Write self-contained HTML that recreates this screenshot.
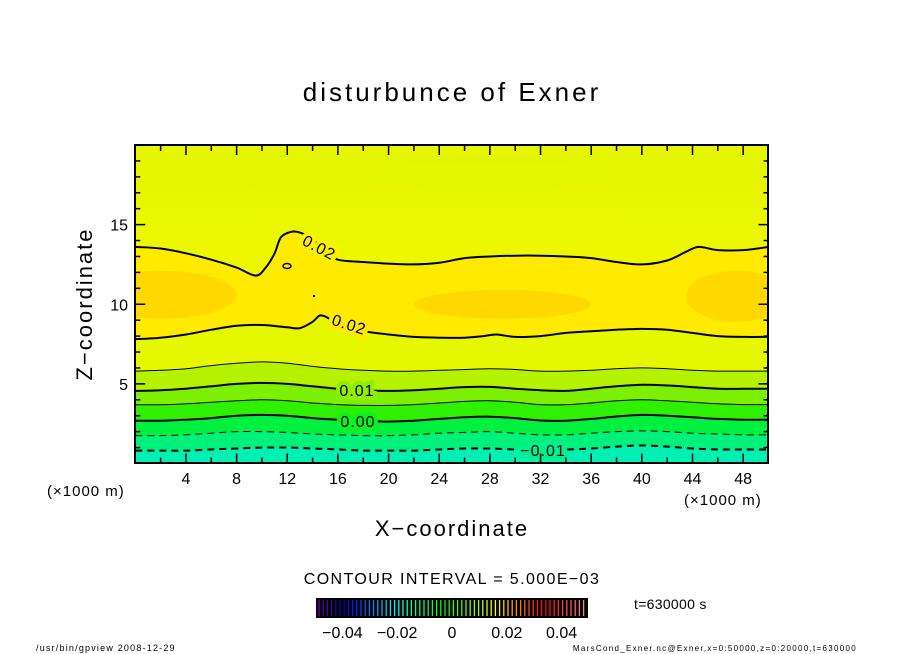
<!DOCTYPE html>
<html><head><meta charset="utf-8"><style>
html,body{margin:0;padding:0;background:#fff;}
svg{display:block;font-family:"Liberation Sans",sans-serif;}
</style></head><body>
<svg id="chart" width="904" height="654" viewBox="0 0 904 654">
<text x="452" y="101" text-anchor="middle" font-size="26" letter-spacing="3">disturbunce of Exner</text>
<defs>
<clipPath id="pc"><rect x="135" y="145" width="633" height="318"/></clipPath>
<linearGradient id="topg" x1="0" y1="0" x2="0" y2="1">
<stop offset="0" stop-color="#e4f600"/><stop offset="0.5" stop-color="#f0f800"/><stop offset="1" stop-color="#fcf400"/>
</linearGradient>
</defs>
<g id="fills" clip-path="url(#pc)"></g>
<g id="lines" clip-path="url(#pc)"></g>
<g id="labels"></g>
<rect x="135" y="145" width="633" height="318" fill="none" stroke="#000" stroke-width="2"/>
<g id="ticks"></g>
<text x="47" y="496" font-size="15" letter-spacing="1">(×1000 m)</text>
<text x="684" y="505" font-size="15" letter-spacing="1">(×1000 m)</text>
<text x="452" y="536" text-anchor="middle" font-size="22" letter-spacing="2">X−coordinate</text>
<text transform="translate(92,304) rotate(-90)" text-anchor="middle" font-size="22" letter-spacing="2">Z−coordinate</text>
<text x="452" y="584" text-anchor="middle" font-size="16" letter-spacing="1.4">CONTOUR INTERVAL = 5.000E−03</text>
<rect x="316" y="598" width="272" height="20" fill="#000"/>
<g id="cbar"></g>
<g id="cblab" font-size="16" text-anchor="middle"></g>
<text x="634" y="609" font-size="14" letter-spacing="0.3">t=630000 s</text>
<text x="36" y="651" font-size="9" letter-spacing="1.2">/usr/bin/gpview   2008-12-29</text>
<text x="857" y="651" font-size="8" letter-spacing="1.3" text-anchor="end">MarsCond_Exner.nc@Exner,x=0:50000,z=0:20000,t=630000</text>
</svg>
<script>
const levels = [-0.01, -0.005, 0.0, 0.005, 0.01, 0.015, 0.02, 0.02];
const xsStd = [0,2,4,6,8,10,12,14,16,18,20,22,24,26,28,30,32,34,36,38,40,42,44,46,48,50];
const zM010 = [0.81,0.81,0.81,0.88,0.94,1.0,1.0,0.94,0.88,0.81,0.81,0.81,0.88,0.94,0.94,0.88,0.88,0.88,0.94,1.06,1.13,1.06,0.94,0.88,0.88,0.88];
const zM005 = [1.75,1.75,1.8,1.9,2.0,2.0,1.95,1.85,1.8,1.75,1.75,1.8,1.9,1.95,2.0,1.9,1.8,1.8,1.9,2.0,2.05,2.0,1.9,1.85,1.8,1.8];
const zP000 = [2.69,2.69,2.75,2.85,3.0,3.05,3.0,2.85,2.75,2.69,2.63,2.69,2.8,2.9,2.94,2.85,2.7,2.69,2.8,2.95,3.05,3.0,2.9,2.8,2.75,2.75];
const zP005 = [3.69,3.69,3.75,3.85,3.94,4.0,3.94,3.8,3.7,3.65,3.65,3.7,3.8,3.9,3.94,3.85,3.7,3.69,3.8,3.94,4.0,3.94,3.85,3.75,3.7,3.7];
const zP010 = [4.56,4.6,4.7,4.85,5.0,5.06,5.0,4.85,4.7,4.6,4.56,4.6,4.7,4.8,4.81,4.7,4.6,4.56,4.7,4.85,4.94,4.9,4.8,4.7,4.69,4.69];
const zP015 = [5.8,5.85,5.95,6.15,6.3,6.38,6.3,6.1,5.95,5.85,5.8,5.8,5.85,5.9,5.95,5.9,5.8,5.8,5.85,5.95,6.0,5.95,5.85,5.8,5.8,5.8];
const xsLow = [0,2,4,6,8,10,12,13,14,14.6,15.3,16,18,20,22,24,26,27.5,28.5,30,32,34,36,38,40,42,44,46,48,50];
const zLow  = [7.81,7.9,8.1,8.4,8.65,8.7,8.55,8.5,8.9,9.3,9.1,8.6,8.3,8.1,7.95,7.9,7.9,8.0,8.1,7.95,8.0,8.2,8.3,8.4,8.45,8.4,8.2,8.0,7.95,7.95];
const xsUp = [0,2,4,6,8,9.5,10.3,11,11.5,12.3,13,14,15,16,18,20,22,24,26,28,30,32,34,36,38,40,42,43.5,44.5,46,48,50];
const zUp  = [13.6,13.5,13.2,12.8,12.3,11.8,12.3,13.2,14.2,14.55,14.5,14.1,13.3,12.8,12.65,12.55,12.5,12.6,12.9,13.0,13.05,13.05,13.0,12.9,12.65,12.5,12.75,13.3,13.6,13.4,13.4,13.6];
const xTicks = [4,8,12,16,20,24,28,32,36,40,44,48];
const zTicks = [5,10,15];
const cbTicks = [-0.04,-0.02,0,0.02,0.04];
const cbTickLabels = ["−0.04","−0.02","0","0.02","0.04"];

const NS="http://www.w3.org/2000/svg";
const X0=135.3, X1=768.5, Y0=463.5, Y1=145;
const sx = v => X0 + v*(X1-X0)/50;
const sy = v => Y0 - v*(Y0-Y1)/20;
function mk(tag, attrs, parent){const e=document.createElementNS(NS,tag);for(const k in attrs)e.setAttribute(k,attrs[k]);parent.appendChild(e);return e;}
function linePath(xs,zs){
  const P=xs.map((x,i)=>[sx(x),sy(zs[i])]);
  let d='M'+P[0][0].toFixed(1)+','+P[0][1].toFixed(1);
  for(let i=0;i<P.length-1;i++){
    const p0=P[Math.max(0,i-1)],p1=P[i],p2=P[i+1],p3=P[Math.min(P.length-1,i+2)];
    const c1=[p1[0]+(p2[0]-p0[0])/6,p1[1]+(p2[1]-p0[1])/6];
    const c2=[p2[0]-(p3[0]-p1[0])/6,p2[1]-(p3[1]-p1[1])/6];
    d+='C'+c1[0].toFixed(1)+','+c1[1].toFixed(1)+' '+c2[0].toFixed(1)+','+c2[1].toFixed(1)+' '+p2[0].toFixed(1)+','+p2[1].toFixed(1);
  }
  return d;
}
const fills=document.getElementById('fills'), lines=document.getElementById('lines');

let r=mk('rect',{x:135,y:145,width:634,height:319,fill:'url(#topg)'},fills);


let p0=mk('ellipse',{cx:sx(28),cy:sy(18.2),rx:120,ry:18,fill:'#e2f600',opacity:0.7},fills);



const contours=[
 {xs:xsUp,zs:zUp,col:'#ffea00',w:2,dash:null,name:'upper-0.02'},
 {ell:true},
 {xs:xsLow,zs:zLow,col:'#e6f800',w:2,dash:null,name:'lower-0.02'},
 {xs:xsStd,zs:zP015,col:'#b4f200',w:1,dash:null,name:'0.015'},
 {xs:xsStd,zs:zP010,col:'#7cf000',w:2,dash:null,name:'0.01'},
 {xs:xsStd,zs:zP005,col:'#2ef000',w:1,dash:null,name:'0.005'},
 {xs:xsStd,zs:zP000,col:'#00f040',w:2,dash:null,name:'0.00'},
 {xs:xsStd,zs:zM005,col:'#00f07c',w:1,dash:'7,5',name:'-0.005'},
 {xs:xsStd,zs:zM010,col:'#00f0b4',w:2,dash:'7,5',name:'-0.01'}
];
contours.forEach(c=>{
  if(c.ell){
    [[2,10.6,6,1.5],[29,10.0,7,0.9],[47.5,10.5,4,1.6]].forEach(e=>{
      const el=mk('ellipse',{cx:sx(e[0]),cy:sy(e[1]),rx:e[2]*12.66,ry:e[3]*15.9,fill:'#ffd800'},fills);
      
      
    });
    return;
  }
  const d=linePath(c.xs,c.zs)+'L'+sx(50)+','+(Y0+2)+'L'+sx(0)+','+(Y0+2)+'Z';
  const f=mk('path',{d:d,fill:c.col},fills);
  
  
});
contours.forEach(c=>{
  if(c.ell)return;
  const a={d:linePath(c.xs,c.zs),fill:'none',stroke:'#000','stroke-width':c.w};
  if(c.dash)a['stroke-dasharray']=c.dash;
  const l=mk('path',a,lines);
  
  
});
let lp=mk('ellipse',{cx:287,cy:266,rx:4,ry:2.5,fill:'none',stroke:'#000','stroke-width':1.5},lines);


let dt=mk('rect',{x:313,y:295,width:2,height:2,fill:'#000'},lines);



const labs=[[319,253,'0.02',28,'#fcf200'],[349,330,'0.02',18,'#ffea00'],[357,396,'0.01',0,'#8cf000'],[358,427,'0.00',0,'#10f020'],[543,456,'−0.01',0,'#00f090']];
const lg=document.getElementById('labels');
labs.forEach(L=>{
  const t=mk('text',{x:L[0],y:L[1],'text-anchor':'middle','font-size':16,'letter-spacing':1,transform:`rotate(${L[3]},${L[0]},${L[1]-5})`,stroke:L[4],'stroke-width':8,'paint-order':'stroke',fill:'#000'},lg);
  t.textContent=L[2];
  
  
});

const tg=document.getElementById('ticks');
for(let v=2;v<50;v+=2){
  const major=v%4===0, len=major?10:6;
  [[Y0,-len],[Y1,len]].forEach(([y,d])=>{
    const t=mk('line',{x1:sx(v),x2:sx(v),y1:y,y2:y+d,stroke:'#000','stroke-width':1.5},tg);
    
    
  });
}
for(let v=1;v<20;v++){
  const major=v%5===0, len=major?10:5;
  [[X0,len],[X1,-len]].forEach(([x,d])=>{
    const t=mk('line',{x1:x,x2:x+d,y1:sy(v),y2:sy(v),stroke:'#000','stroke-width':1.5},tg);
    
    
  });
}
xTicks.forEach(v=>{
  const t=mk('text',{x:sx(v),y:484,'text-anchor':'middle','font-size':16},tg);
  t.textContent=v;
  
  
});
zTicks.forEach(v=>{
  const t=mk('text',{x:128,y:sy(v)+6,'text-anchor':'end','font-size':16},tg);
  t.textContent=v;
  
  
});

const cb=document.getElementById('cbar');
const N=64;
for(let i=0;i<N;i++){
  const f=i/(N-1);
  let h,l;
  if(f<0.85){h=275-f/0.85*275;l=f<0.1?35:50;}else{h=360;l=50+(f-0.85)/0.15*25;}
  const ln=mk('line',{x1:319+i*4.2,x2:319+i*4.2,y1:600,y2:616,stroke:`hsl(${h},100%,${l}%)`,'stroke-width':1.3},cb);
  
  
}
const cbx=v=>452+v*2740;
const cbl=document.getElementById('cblab');
cbTicks.forEach((v,i)=>{
  const t=mk('text',{x:cbx(v),y:638},cbl);
  t.textContent=cbTickLabels[i];
  
  
});
</script>
</body></html>
